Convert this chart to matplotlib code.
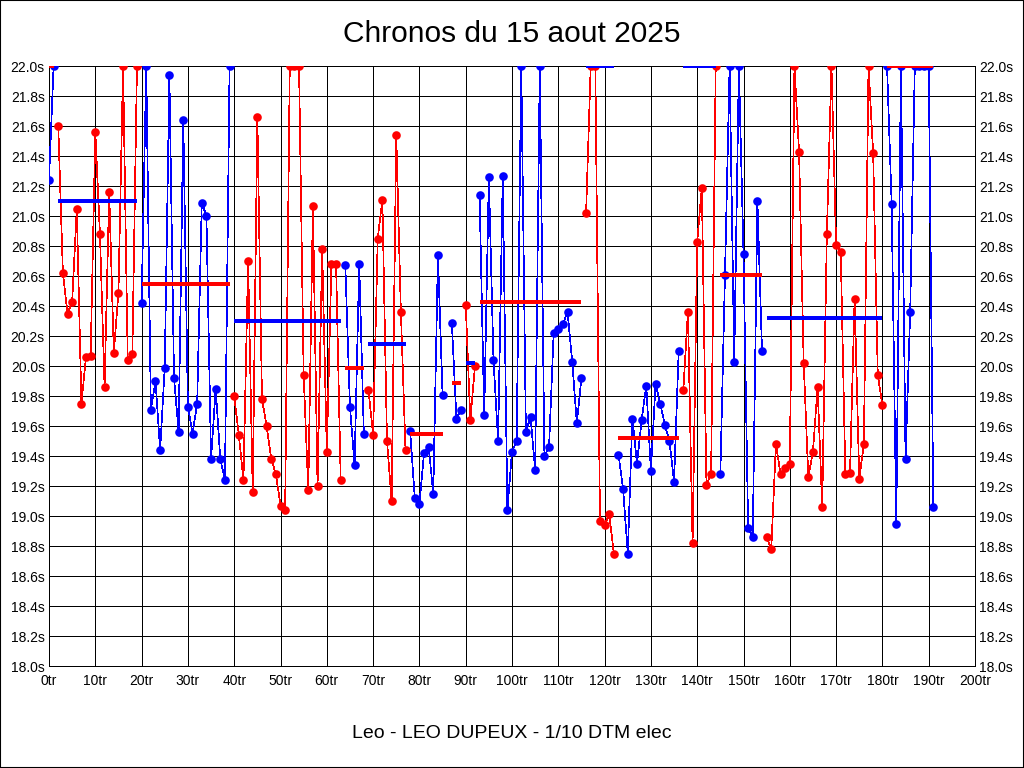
import matplotlib
matplotlib.use("Agg")
import matplotlib.pyplot as plt
from matplotlib.patches import Rectangle

plt.rcParams['font.family'] = ['Liberation Sans', 'DejaVu Sans']

# one entry per stint: first lap, point colour, lap times (clipped at 22.0), stint average
stint_start = [0, 2, 20, 40, 64, 69, 78, 87, 90, 93, 116, 123, 137, 145, 155, 181]
stint_color = ['blue', 'red', 'blue', 'red', 'blue', 'red', 'blue', 'blue',
               'red', 'blue', 'red', 'blue', 'red', 'blue', 'red', 'blue']
stint_avg = [22.0, 21.10, 20.55, 20.30, 19.99, 20.145, 19.545, 19.885,
             20.02, 20.43, 22.0, 19.52, 22.0, 20.61, 20.32, 22.0]
stint_times = [
    [21.24, 22.0],
    [21.60, 20.62, 20.35, 20.43, 21.05, 19.75, 20.06, 20.07, 21.56, 20.88,
     19.86, 21.16, 20.09, 20.49, 22.0, 20.04, 20.08, 22.0],
    [20.42, 22.0, 19.71, 19.90, 19.44, 19.99, 21.94, 19.92, 19.56, 21.64,
     19.73, 19.55, 19.75, 21.09, 21.00, 19.38, 19.85, 19.38, 19.24, 22.0],
    [19.80, 19.54, 19.24, 20.70, 19.16, 21.66, 19.78, 19.60, 19.38, 19.28,
     19.07, 19.04, 22.0, 22.0, 22.0, 19.94, 19.17, 21.07, 19.20, 20.78,
     19.43, 20.68, 20.68, 19.24],
    [20.67, 19.73, 19.34, 20.68, 19.55],
    [19.84, 19.54, 20.85, 21.11, 19.50, 19.10, 21.54, 20.36, 19.44],
    [19.57, 19.12, 19.08, 19.42, 19.46, 19.15, 20.74, 19.81],
    [20.29, 19.65, 19.71],
    [20.41, 19.64, 20.00],
    [21.14, 19.67, 21.26, 20.04, 19.50, 21.27, 19.04, 19.43, 19.50, 22.0,
     19.56, 19.66, 19.31, 22.0, 19.40, 19.46, 20.22, 20.25, 20.28, 20.36,
     20.03, 19.62, 19.92],
    [21.02, 22.0, 22.0, 18.97, 18.94, 19.01, 18.75],
    [19.41, 19.18, 18.75, 19.65, 19.35, 19.64, 19.87, 19.30, 19.88, 19.75,
     19.61, 19.50, 19.23, 20.10],
    [19.84, 20.36, 18.82, 20.83, 21.19, 19.21, 19.28, 22.0],
    [19.28, 20.61, 22.0, 20.03, 22.0, 20.75, 18.92, 18.86, 21.10, 20.10],
    [18.86, 18.78, 19.48, 19.28, 19.32, 19.35, 22.0, 21.43, 20.02, 19.26,
     19.43, 19.86, 19.06, 20.88, 22.0, 20.81, 20.76, 19.28, 19.29, 20.45,
     19.25, 19.48, 22.0, 21.42, 19.94, 19.74],
    [22.0, 21.08, 18.95, 22.0, 19.38, 20.36, 22.0, 22.0, 22.0, 22.0, 19.06],
]

title = "Chronos du 15 aout 2025"
subtitle = "Leo - LEO DUPEUX - 1/10 DTM elec"

fig = plt.figure(figsize=(10.24, 7.68), dpi=100)
ax = fig.add_axes([49 / 1024, 102 / 768, 926 / 1024, 600 / 768])

other = {'blue': 'red', 'red': 'blue'}
for start, col, times, avg in zip(stint_start, stint_color, stint_times, stint_avg):
    laps = list(range(start, start + len(times)))
    ax.plot(laps, times, '-', color=col, lw=0.5, antialiased=False, zorder=3)
    ax.plot(laps, times, 'o', color=col, markersize=6.2, markeredgewidth=0, zorder=4)
    ax.plot([laps[0], laps[-1]], [avg, avg], '-', color=other[col], lw=2.6,
            solid_capstyle='butt', antialiased=False, zorder=5)

ax.set_xlim(0, 200)
ax.set_ylim(18.0, 22.0)
ax.set_xticks(range(0, 201, 10))
ax.set_xticklabels([f"{v}tr" for v in range(0, 201, 10)])
yt = [18.0 + 0.2 * i for i in range(21)]
ax.set_yticks(yt)
ax.set_yticklabels([f"{v:.1f}s" for v in yt])
ax.tick_params(axis='both', length=0, labelsize=10, colors='black')
ax.tick_params(axis='y', pad=3, labelright=True, right=True)
ax.tick_params(axis='x', pad=6)
ax.grid(True, color='black', lw=0.5, antialiased=False)
ax.set_axisbelow(True)
for sp in ax.spines.values():
    sp.set_color('black')
    sp.set_linewidth(0.72)

fig.text(0.5, 1 - 34 / 768, title, ha='center', va='center', fontsize=21.5)
fig.text(0.5, 1 - 733 / 768, subtitle, ha='center', va='center', fontsize=14)
fig.patches.append(Rectangle((0, 0), 1, 1, transform=fig.transFigure, fill=False,
                             edgecolor='black', lw=1.5))

fig.savefig("out.png", dpi=100)
